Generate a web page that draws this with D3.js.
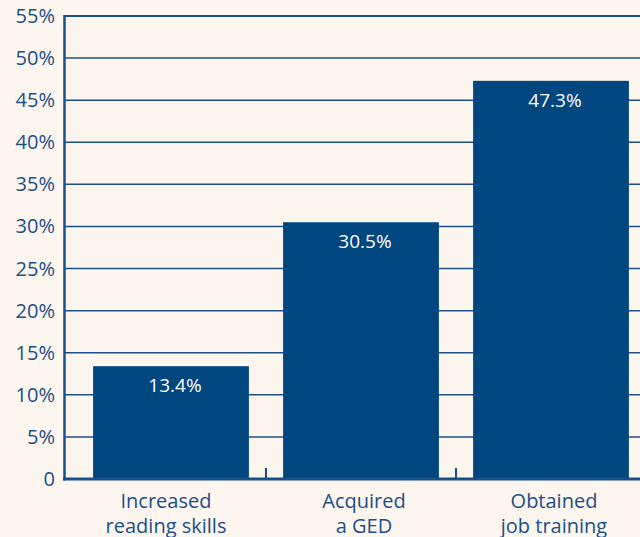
<!DOCTYPE html>
<html>
<head>
<meta charset="utf-8">
<script src="https://cdn.jsdelivr.net/npm/d3@7"></script>
<style>
  body { margin: 0; background: #fdf6ef; }
  svg { display: block; }
  text { font-family: "Open Sans", "Noto Sans", sans-serif; }
</style>
</head>
<body>
<svg class="chart" width="640" height="537"></svg>
<script>
// chart data
const categories = [['Increased', 'reading skills'], ['Acquired', 'a GED'], ['Obtained', 'job training']];
const values = [13.4, 30.5, 47.3];
const yTicks = [0, 5, 10, 15, 20, 25, 30, 35, 40, 45, 50, 55];

const blue = '#00467f';
const ink = '#1b4f8a';

const svg = d3.select('.chart');
svg.append('rect').attr('width', 640).attr('height', 537).attr('fill', '#fdf6ef');

const x = d3.scaleBand().domain(d3.range(categories.length)).range([76, 646]).paddingInner(0.18).paddingOuter(0.09);
const y = d3.scaleLinear().domain([0, 55]).range([479, 16]);

// gridlines
svg.append('g')
  .selectAll('line')
  .data(yTicks.filter(d => d > 0))
  .enter()
  .append('line')
  .attr('x1', 64).attr('x2', 640)
  .attr('y1', d => y(d)).attr('y2', d => y(d))
  .attr('stroke', ink)
  .attr('stroke-width', d => d === 55 ? 2 : 1.5);

// y tick labels
svg.append('g')
  .selectAll('text')
  .data(yTicks)
  .enter()
  .append('text')
  .attr('x', 55)
  .attr('y', d => y(d) + 7)
  .attr('text-anchor', 'end')
  .attr('fill', ink)
  .style('font-size', '20px')
  .text(d => d === 0 ? '0' : d + '%');

// bars
svg.append('g')
  .selectAll('rect')
  .data(values)
  .enter()
  .append('rect')
  .attr('x', (d, i) => x(i))
  .attr('width', x.bandwidth())
  .attr('y', d => y(d))
  .attr('height', d => y(0) - y(d))
  .attr('fill', blue);

// value labels
svg.append('g')
  .selectAll('text')
  .data(values)
  .enter()
  .append('text')
  .attr('x', (d, i) => x(i) + x.bandwidth() / 2 + 4)
  .attr('y', d => y(d) + 26)
  .attr('text-anchor', 'middle')
  .attr('fill', '#ffffff')
  .style('font-size', '19px')
  .text(d => d.toFixed(1) + '%');

// axes lines
svg.append('line')
  .attr('x1', 64.5).attr('x2', 64.5)
  .attr('y1', y(55) - 1).attr('y2', y(0) + 1.5)
  .attr('stroke', ink).attr('stroke-width', 2.5);
svg.append('line')
  .attr('x1', 63).attr('x2', 640)
  .attr('y1', y(0)).attr('y2', y(0))
  .attr('stroke', ink).attr('stroke-width', 3);

// small ticks between categories
const step = x.step();
svg.append('g')
  .selectAll('line')
  .data(d3.range(1, categories.length))
  .enter()
  .append('line')
  .attr('x1', i => x(i) - (step - x.bandwidth()) / 2)
  .attr('x2', i => x(i) - (step - x.bandwidth()) / 2)
  .attr('y1', y(0)).attr('y2', y(0) - 11)
  .attr('stroke', ink).attr('stroke-width', 2);

// category labels
const catLabels = svg.append('g')
  .selectAll('text')
  .data(categories)
  .enter()
  .append('text')
  .attr('text-anchor', 'middle')
  .attr('fill', ink)
  .style('font-size', '20px');

catLabels.selectAll('tspan')
  .data((d, i) => d.map(t => ({ t: t, i: i })))
  .enter()
  .append('tspan')
  .attr('x', d => x(d.i) + x.bandwidth() / 2 + (d.i === 0 ? -5 : 3))
  .attr('y', (d, j) => 508 + j * 25)
  .text(d => d.t);
</script>
</body>
</html>
